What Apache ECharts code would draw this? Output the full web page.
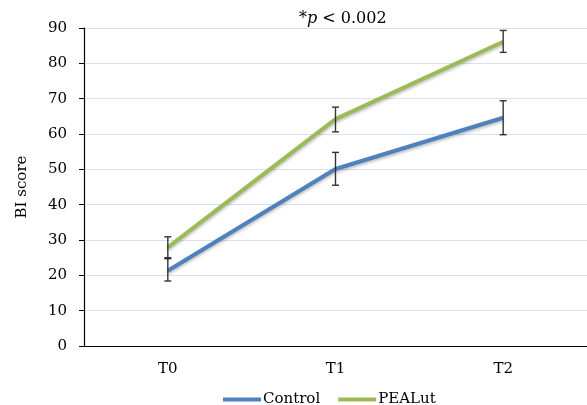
<!DOCTYPE html>
<html>
<head>
<meta charset="utf-8">
<script src="https://cdn.jsdelivr.net/npm/echarts@6/dist/echarts.min.js"></script>
<style>
html, body { margin: 0; padding: 0; background: #fff; }
#chart { width: 587px; height: 405px; }
</style>
</head>
<body>
<div id="chart"></div>
<script>
var categories = ['T0', 'T1', 'T2'];
var controlValues = [21.3, 50.1, 64.6];
var pealutValues = [27.9, 64.2, 86.1];
// error bar ends
var controlLow = [18.4, 45.5, 59.8];
var controlHigh = [24.7, 54.8, 69.4];
var pealutLow = [25.0, 60.6, 83.1];
var pealutHigh = [30.9, 67.6, 89.3];

var serif = '"DejaVu Serif", "Liberation Serif", serif';

function errorData(low, high) {
    return categories.map(function (c, i) { return [i, low[i], high[i]]; });
}

function renderError(params, api) {
    var x = api.value(0);
    var lo = api.coord([x, api.value(1)]);
    var hi = api.coord([x, api.value(2)]);
    var half = 3.5;
    var style = { stroke: '#333333', lineWidth: 1.4 };
    return {
        type: 'group',
        children: [
            { type: 'line', shape: { x1: hi[0], y1: hi[1], x2: lo[0], y2: lo[1] }, style: style },
            { type: 'line', shape: { x1: hi[0] - half, y1: hi[1], x2: hi[0] + half, y2: hi[1] }, style: style },
            { type: 'line', shape: { x1: lo[0] - half, y1: lo[1], x2: lo[0] + half, y2: lo[1] }, style: style }
        ]
    };
}

var chart = echarts.init(document.getElementById('chart'));
var option = {
    animation: false,
    title: {
        text: '*{i|p} < 0.002',
        left: 294,
        top: 6,
        textStyle: {
            fontFamily: serif,
            fontSize: 16,
            fontWeight: 'normal',
            color: '#000',
            rich: {
                i: { fontFamily: serif, fontSize: 16, fontStyle: 'italic', color: '#000' }
            }
        }
    },
    legend: {
        bottom: -7,
        left: 218,
        itemWidth: 38,
        itemHeight: 4,
        itemGap: 18,
        textStyle: { fontFamily: serif, fontSize: 15, color: '#000', padding: [0, 0, 0, -3] },
        data: [
            { name: 'Control', icon: 'rect' },
            { name: 'PEALut', icon: 'rect' }
        ]
    },
    grid: {
        left: 84,
        top: 28,
        width: 507,
        height: 318
    },
    xAxis: {
        type: 'category',
        data: categories,
        boundaryGap: true,
        axisLine: { lineStyle: { color: '#000', width: 1.2 } },
        axisTick: { alignWithLabel: true, length: 4, lineStyle: { color: '#000' } },
        axisLabel: { fontFamily: serif, fontSize: 15, color: '#000', margin: 16 }
    },
    yAxis: {
        type: 'value',
        min: 0,
        max: 90,
        interval: 10,
        name: 'BI score',
        nameLocation: 'middle',
        nameGap: 54,
        nameTextStyle: { fontFamily: serif, fontSize: 15, color: '#000' },
        axisLine: { show: true, lineStyle: { color: '#000', width: 1.2 } },
        axisTick: { show: true, length: 5, lineStyle: { color: '#000' } },
        axisLabel: { fontFamily: serif, fontSize: 15, color: '#000', margin: 17 },
        splitLine: { lineStyle: { color: '#d6e2f3', width: 1 } }
    },
    series: [
        {
            name: 'Control',
            type: 'line',
            data: controlValues,
            symbol: 'none',
            color: '#4f81bd',
            lineStyle: { width: 4, color: '#4f81bd', shadowColor: 'rgba(0,0,0,0.25)', shadowBlur: 3, shadowOffsetY: 2 }
        },
        {
            name: 'PEALut',
            type: 'line',
            data: pealutValues,
            symbol: 'none',
            color: '#9bbb59',
            lineStyle: { width: 4, color: '#9bbb59', shadowColor: 'rgba(0,0,0,0.25)', shadowBlur: 3, shadowOffsetY: 2 }
        },
        {
            type: 'custom',
            renderItem: renderError,
            data: errorData(controlLow, controlHigh),
            encode: { x: 0, y: [1, 2] },
            z: 5
        },
        {
            type: 'custom',
            renderItem: renderError,
            data: errorData(pealutLow, pealutHigh),
            encode: { x: 0, y: [1, 2] },
            z: 5
        }
    ]
};
chart.setOption(option);
</script>
</body>
</html>
